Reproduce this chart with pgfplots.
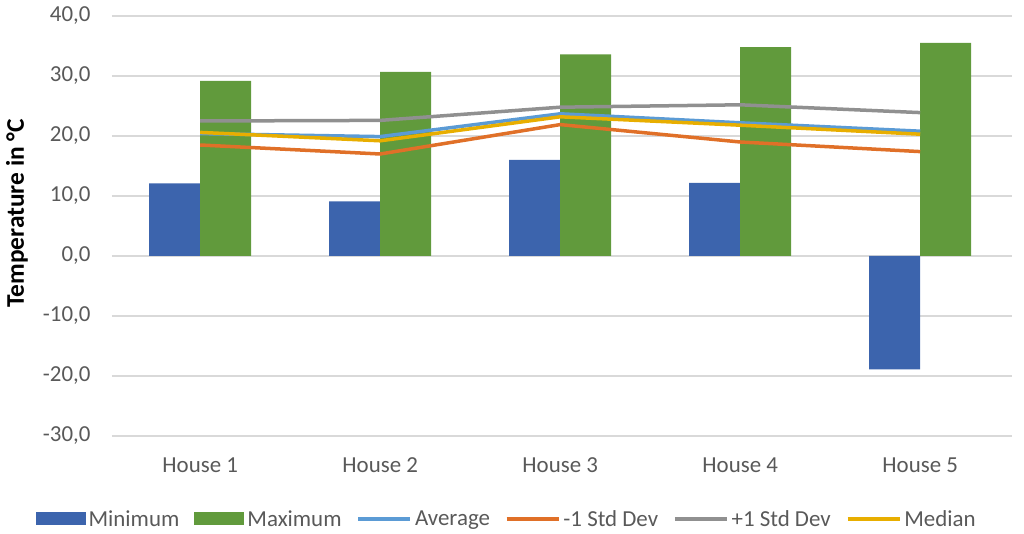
\documentclass[border=0pt]{standalone}
\usepackage{pgfplots}
\pgfplotsset{compat=1.18}
\usepackage{fontspec}
\setmainfont{Carlito}
\definecolor{cmin}{HTML}{3C64AD}
\definecolor{cmax}{HTML}{619A3C}
\definecolor{cavg}{HTML}{5B9BD5}
\definecolor{clo}{HTML}{E07028}
\definecolor{chi}{HTML}{909090}
\definecolor{cmed}{HTML}{E8AE00}
\definecolor{ctxt}{HTML}{595959}
\definecolor{cgrid}{HTML}{D9D9D9}
\begin{document}
\begin{tikzpicture}
\path[use as bounding box] (-112bp,-98bp) rectangle (912bp,436bp);
\begin{axis}[
  at={(0,0)}, anchor=south west,
  scale only axis, width=900bp, height=420bp,
  xmin=-0.49, xmax=4.51, ymin=-30, ymax=40,
  axis line style={draw=none},
  ymajorgrids, grid style={cgrid, line width=1.3bp},
  major tick length=0pt,
  xtick={0,1,2,3,4},
  xticklabels={House 1,House 2,House 3,House 4,House 5},
  ytick={-30,-20,...,40},
  tick label style={font=\fontsize{23}{27}\selectfont, text=ctxt},
  xticklabel style={yshift=-18bp},
  yticklabel style={xshift=-18bp},
  /pgf/number format/.cd, fixed, fixed zerofill, precision=1, use comma, assume math mode=true,
  /pgfplots/.cd,
  ylabel={Temperature in °C},
  every axis y label/.style={at={(axis description cs:-0.1056,0.53)}, rotate=90, anchor=center, font=\bfseries\fontsize{25.5}{30}\selectfont, text=black},
  legend columns=6,
  legend style={draw=none, fill=none, at={(axis description cs:0.439,-0.1976)}, anchor=center,
    font=\fontsize{23}{27}\selectfont, text=ctxt,
    /tikz/every even column/.append style={column sep=12bp},
    nodes={inner sep=3bp}},
  legend cell align=left,
]
\addplot[ybar, bar width=51bp, bar shift=-25.5bp, fill=cmin, draw=none,
  legend image code/.code={\fill[cmin] (0bp,-6.5bp) rectangle (50bp,6.5bp);}]
  coordinates {(0,12.1) (1,9.1) (2,16.0) (3,12.2) (4,-18.9)};
\addlegendentry{Minimum}
\addplot[ybar, bar width=51bp, bar shift=25.5bp, fill=cmax, draw=none,
  legend image code/.code={\fill[cmax] (0bp,-6.5bp) rectangle (50bp,6.5bp);}]
  coordinates {(0,29.2) (1,30.7) (2,33.6) (3,34.8) (4,35.5)};
\addlegendentry{Maximum}
\addplot[sharp plot, cavg, line width=3.5bp, mark=none,
  legend image code/.code={\draw[cavg, line width=3.5bp] (0bp,0bp) -- (52bp,0bp);}]
  coordinates {(0,20.4) (1,19.9) (2,23.7) (3,22.2) (4,20.8)};
\addlegendentry{Average}
\addplot[sharp plot, clo, line width=3.5bp, mark=none,
  legend image code/.code={\draw[clo, line width=3.5bp] (0bp,0bp) -- (52bp,0bp);}]
  coordinates {(0,18.5) (1,17.0) (2,21.9) (3,19.0) (4,17.4)};
\addlegendentry{-1 Std Dev}
\addplot[sharp plot, chi, line width=3.5bp, mark=none,
  legend image code/.code={\draw[chi, line width=3.5bp] (0bp,0bp) -- (52bp,0bp);}]
  coordinates {(0,22.5) (1,22.6) (2,24.8) (3,25.2) (4,23.9)};
\addlegendentry{+1 Std Dev}
\addplot[sharp plot, cmed, line width=3.5bp, mark=none,
  legend image code/.code={\draw[cmed, line width=3.5bp] (0bp,0bp) -- (52bp,0bp);}]
  coordinates {(0,20.6) (1,19.2) (2,23.2) (3,21.8) (4,20.3)};
\addlegendentry{Median}
\end{axis}
\end{tikzpicture}
\end{document}
